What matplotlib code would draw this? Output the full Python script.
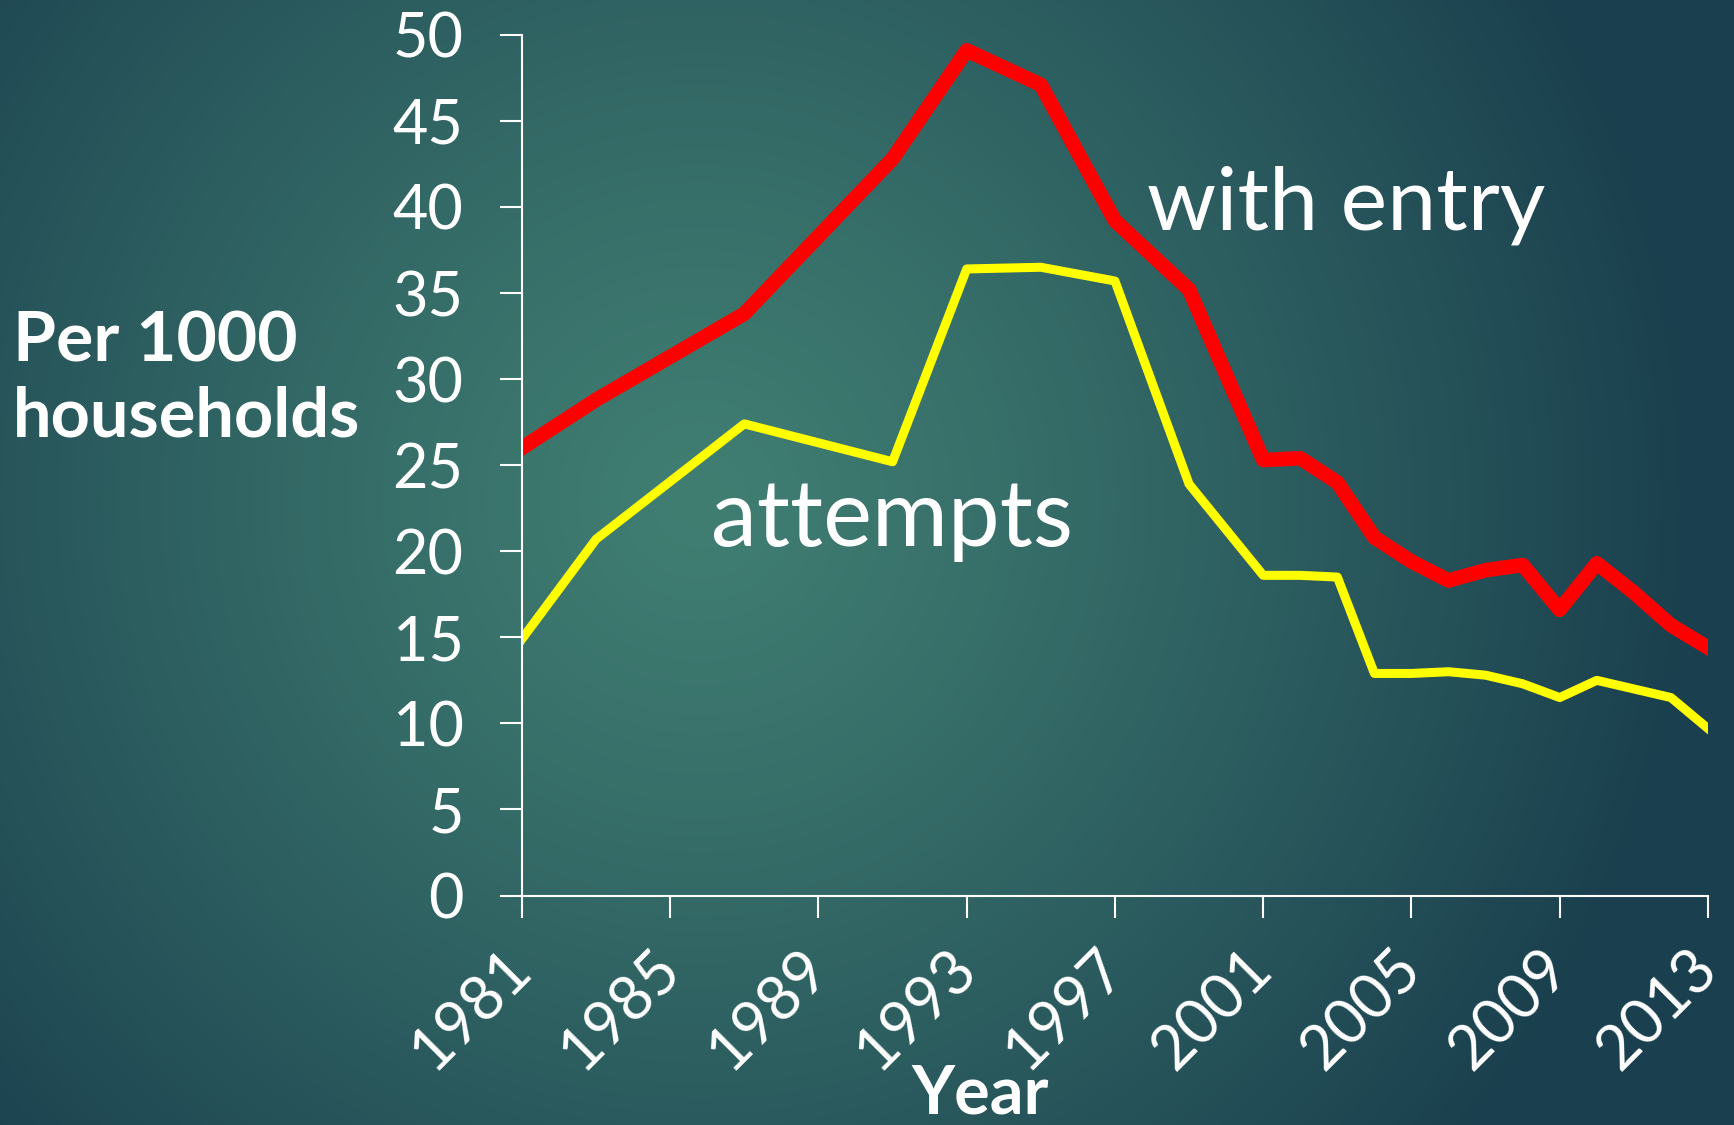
import numpy as np
import matplotlib
matplotlib.use('Agg')
import matplotlib.pyplot as plt

# burglary rates, per 1000 households
years = [1981, 1983, 1987, 1991, 1993, 1995, 1997, 1999, 2001, 2002, 2003,
         2004, 2005, 2006, 2007, 2008, 2009, 2010, 2011, 2012, 2013]
with_entry = [26.0, 28.8, 33.8, 42.8, 49.1, 47.1, 39.2, 35.2, 25.3, 25.4, 24.0,
              20.8, 19.4, 18.3, 18.9, 19.2, 16.6, 19.3, 17.6, 15.7, 14.4]
attempts = [14.9, 20.7, 27.4, 25.2, 36.4, 36.5, 35.7, 23.9, 18.6, 18.6, 18.5,
            12.9, 12.9, 13.0, 12.8, 12.3, 11.5, 12.5, 12.0, 11.5, 9.7]

xticks = list(range(1981, 2014, 4))
yticks = list(range(0, 51, 5))

plt.rcParams['font.family'] = ['Lato', 'DejaVu Sans']

W, H = 1734, 1125
fig = plt.figure(figsize=(W / 100, H / 100), dpi=100)


def fit_width(txt, px):
    # scale font so the text spans px pixels
    r = fig.canvas.get_renderer()
    bb = txt.get_window_extent(r)
    txt.set_fontsize(txt.get_fontsize() * px / bb.width)


# radial teal background
bg = fig.add_axes([0, 0, 1, 1])
bg.axis('off')
yy, xx = np.mgrid[0:H, 0:W]
t = np.clip(np.hypot(xx - 700, yy - 500) / 1000, 0, 1) ** 1.2
c0 = np.array([0x40, 0x7e, 0x72]) / 255
c1 = np.array([0x1a, 0x3f, 0x4e]) / 255
bg.imshow(c0 + (c1 - c0) * t[..., None], aspect='auto', extent=[0, 1, 0, 1])

ax = fig.add_axes([0.301, 0.204, 0.684, 0.765])
ax.patch.set_alpha(0)
ax.plot(years, with_entry, color='#ff0000', lw=10.5, solid_joinstyle='round')
ax.plot(years, attempts, color='#ffff00', lw=6.5, solid_joinstyle='round')
ax.set_xlim(1981, 2013)
ax.set_ylim(0, 50)
ax.set_xticks(xticks)
ax.set_yticks(yticks)

for s in ['top', 'right']:
    ax.spines[s].set_visible(False)
for s in ['left', 'bottom']:
    ax.spines[s].set_color('white')
    ax.spines[s].set_linewidth(1.5)

ax.tick_params(colors='white', length=16, width=1.5, labelsize=44)
ax.tick_params(axis='y', pad=26)
ax.tick_params(axis='x', pad=30)
for lab in ax.get_xticklabels():
    lab.set_rotation(45)
    lab.set_ha('right')
    lab.set_va('center')
    lab.set_rotation_mode('anchor')

t1 = ax.text(1997.86, 38.7, 'with entry', color='white', fontsize=64)
t2 = ax.text(1986.1, 20.3, 'attempts', color='white', fontsize=64)
fit_width(t1, 398)
fit_width(t2, 362)

fig.text(13 / W, 1 - 361 / H, 'Per 1000', color='white', fontsize=50, fontweight='bold')
t3 = fig.text(13 / W, 1 - 437 / H, 'households', color='white', fontsize=50, fontweight='bold')
fit_width(t3, 348)
fig.text(980 / W, 0.01, 'Year', color='white', fontsize=48, fontweight='bold', ha='center')

plt.savefig('out.png', dpi=100)
